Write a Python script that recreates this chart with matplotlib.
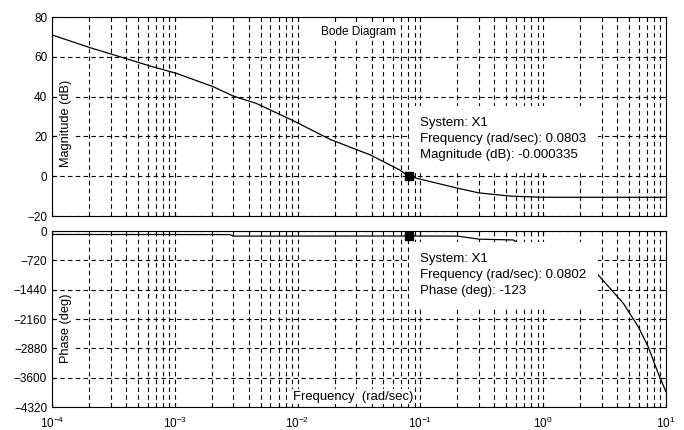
import matplotlib
matplotlib.use('Agg')
import matplotlib.pyplot as plt
import numpy as np

plt.rcParams['font.family'] = ['Liberation Sans', 'DejaVu Sans']
plt.rcParams['mathtext.fontset'] = 'custom'
plt.rcParams['mathtext.rm'] = 'Liberation Sans'
plt.rcParams['mathtext.it'] = 'Liberation Sans'

# magnitude curve
mag_freq = [1e-4, 2.04e-4, 3.06e-4, 6.6e-4, 1.03e-3, 2.05e-3, 2.98e-3, 4.6e-3,
            9.2e-3, 0.0184, 0.039, 0.068, 0.0803, 0.1, 0.2, 0.3, 0.54, 1.0, 10.0]
mag_db = [71.0, 64.6, 61.3, 55.0, 51.7, 45.0, 40.3, 36.6,
          27.9, 18.5, 10.7, 3.1, 0.0, -1.5, -6.0, -8.4, -10.0, -10.6, -10.6]

# phase curve
ph_freq = [1e-4, 2.8e-3, 3.0e-3, 0.0802, 0.2, 0.3, 0.57, 0.7,
           1.0, 2.73, 4.49, 5.94, 7.16, 8.64, 10.0]
ph_deg = [-85, -88, -125, -123, -125, -200, -220, -400,
          -560, -1038, -1775, -2349, -2840, -3494, -3945]

mag_ticks = [80, 60, 40, 20, 0, -20]
ph_ticks = [0, -720, -1440, -2160, -2880, -3600, -4320]
x_ticks = [1e-4, 1e-3, 1e-2, 1e-1, 1e0, 1e1]
x_labels = ['$10^{-4}$', '$10^{-3}$', '$10^{-2}$', '$10^{-1}$', '$10^{0}$', '$10^{1}$']

fs = 8.5
W, H = 684, 430
fig = plt.figure(figsize=(W/100, H/100), dpi=100)

def px(l, t, r, b):
    return [l/W, 1-b/H, (r-l)/W, (b-t)/H]

ax1 = fig.add_axes(px(52, 17, 666, 216))
ax2 = fig.add_axes(px(52, 231, 666, 407))

grid_kw = dict(color='k', linestyle=(0, (4, 3)), linewidth=0.8)
for ax in (ax1, ax2):
    ax.set_xscale('log')
    ax.set_xlim(1e-4, 10)
    ax.grid(True, which='both', axis='x', **grid_kw)
    ax.grid(True, which='major', axis='y', **grid_kw)
    ax.tick_params(which='both', direction='in', top=True, right=True,
                   labelsize=fs, length=3)
    ax.tick_params(which='minor', length=2)
    for s in ax.spines.values():
        s.set_linewidth(0.8)

ax1.plot(mag_freq, mag_db, color='k', lw=0.9)
ax1.set_ylim(-20, 80)
ax1.set_yticks(mag_ticks)
ax1.set_xticks(x_ticks)
ax1.set_xticklabels([])
ax1.plot([0.0803], [-0.000335], 's', color='k', ms=6, zorder=6)

ax2.plot(ph_freq, ph_deg, color='k', lw=0.9)
ax2.set_ylim(-4320, 0)
ax2.set_yticks(ph_ticks)
ax2.set_xticks(x_ticks)
ax2.set_xticklabels(x_labels)
ax2.tick_params(axis='x', pad=6)
ax2.plot([0.0802], [-123], 's', color='k', ms=6, zorder=6)

box = dict(facecolor='white', edgecolor='none', pad=1)
ax1.text(0.5, 0.955, 'Bode Diagram', transform=ax1.transAxes, ha='center', va='top',
         fontsize=fs, bbox=box, zorder=5)
ax1.text(0.013, 0.465, 'Magnitude (dB)', transform=ax1.transAxes, rotation=90,
         ha='left', va='center', fontsize=9.2, bbox=box, zorder=5)
ax2.text(0.013, 0.45, 'Phase (deg)', transform=ax2.transAxes, rotation=90,
         ha='left', va='center', fontsize=9.2, bbox=box, zorder=5)
ax2.text(0.49, 0.025, 'Frequency  (rad/sec)', transform=ax2.transAxes, ha='center',
         va='bottom', fontsize=9.4, bbox=box, zorder=5)

tbox = dict(facecolor='white', edgecolor='none', pad=8)
ax1.text(0.6, 0.387, 'System: X1\nFrequency (rad/sec): 0.0803\nMagnitude (dB): -0.000335',
         transform=ax1.transAxes, ha='left', va='center', fontsize=9.5,
         linespacing=1.45, bbox=tbox, zorder=5)
ax2.text(0.6, 0.75, 'System: X1\nFrequency (rad/sec): 0.0802\nPhase (deg): -123',
         transform=ax2.transAxes, ha='left', va='center', fontsize=9.5,
         linespacing=1.45, bbox=tbox, zorder=5)

fig.savefig('out.png', dpi=100)
